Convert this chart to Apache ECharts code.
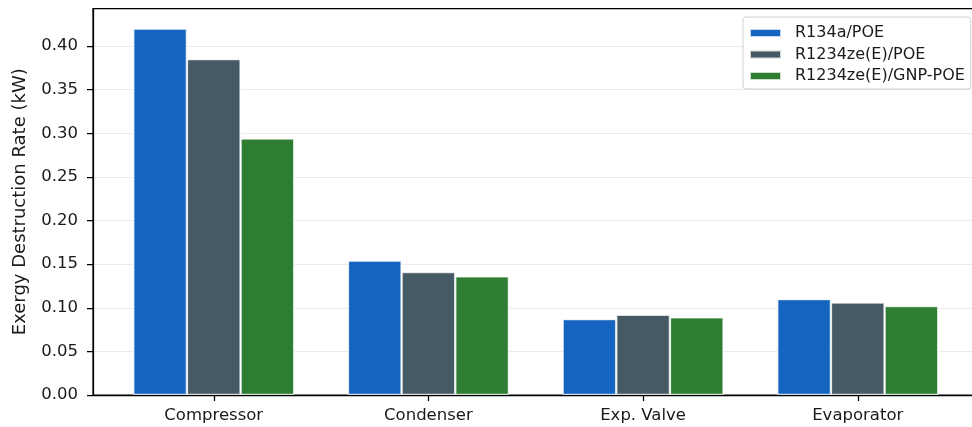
<!DOCTYPE html>
<html>
<head>
<meta charset="utf-8">
<script src="https://cdn.jsdelivr.net/npm/echarts@6/dist/echarts.min.js"></script>
<style>
  html, body { margin: 0; padding: 0; background: #fff; }
  #chart { width: 972px; height: 427px; }
</style>
</head>
<body>
<div id="chart"></div>
<script>
// Components of the refrigeration cycle
const categories = ['Compressor', 'Condenser', 'Exp. Valve', 'Evaporator'];

// Exergy destruction rate per component (kW)
const r134aValues = [0.420, 0.154, 0.087, 0.110];
const r1234zeValues = [0.385, 0.141, 0.092, 0.106];
const r1234zeGnpValues = [0.294, 0.136, 0.089, 0.102];

const seriesNames = ['R134a/POE', 'R1234ze(E)/POE', 'R1234ze(E)/GNP-POE'];
const seriesColors = ['#1565C0', '#455A64', '#2E7D32'];

const yTicks = ['0.00', '0.05', '0.10', '0.15', '0.20', '0.25', '0.30', '0.35', '0.40'];

const positions = categories.map((_, i) => i);
const font = 'DejaVu Sans';

function barSeries(name, values, color) {
  return {
    name: name,
    type: 'bar',
    data: values.map((v, i) => [positions[i], v]),
    barWidth: '25%',
    barGap: '0%',
    itemStyle: {
      color: color,
      borderColor: 'rgba(255,255,255,0.75)',
      borderWidth: 1.2
    },
    emphasis: { disabled: true }
  };
}

const chart = echarts.init(document.getElementById('chart'), null, { renderer: 'canvas' });

chart.setOption({
  animation: false,
  backgroundColor: '#fff',
  grid: {
    left: 93,
    width: 885.5,
    top: 8.5,
    bottom: 32,
    outerBoundsMode: 'none',
    containLabel: false,
    show: true,
    borderColor: '#000',
    borderWidth: 1.25,
    backgroundColor: 'transparent'
  },
  legend: {
    orient: 'vertical',
    left: 743,
    top: 17,
    padding: [8, 6, 5, 6],
    itemWidth: 31,
    itemHeight: 8,
    itemGap: 5.5,
    borderColor: '#d0d0d0',
    borderWidth: 1,
    borderRadius: 3,
    backgroundColor: '#fff',
    icon: 'rect',
    data: seriesNames,
    textStyle: {
      fontFamily: font,
      fontSize: 16,
      color: '#1a1a1a',
      padding: [0, 0, 0, 9]
    }
  },
  xAxis: {
    type: 'value',
    min: -0.5625,
    max: 3.5625,
    axisLine: { show: true, onZero: false, lineStyle: { color: '#000', width: 1.25 } },
    axisTick: { show: true, length: 6, customValues: positions, lineStyle: { color: '#000', width: 1.25 } },
    axisLabel: {
      show: true,
      customValues: positions,
      margin: 12,
      fontFamily: font,
      fontSize: 16.5,
      color: '#1a1a1a',
      formatter: (v) => categories[Math.round(v)]
    },
    splitLine: { show: false }
  },
  yAxis: {
    type: 'value',
    min: 0,
    max: 0.443,
    interval: 0.05,
    name: 'Exergy Destruction Rate (kW)',
    nameLocation: 'middle',
    nameGap: 64,
    nameTextStyle: { fontFamily: font, fontSize: 18, color: '#1a1a1a' },
    axisLine: { show: true, onZero: false, lineStyle: { color: '#000', width: 1.25 } },
    axisTick: { show: true, length: 6, lineStyle: { color: '#000', width: 1.25 } },
    axisLabel: {
      margin: 15,
      fontFamily: font,
      fontSize: 16.5,
      color: '#1a1a1a',
      showMaxLabel: false,
      formatter: (v) => {
        const idx = Math.round(v / 0.05);
        return Math.abs(v - idx * 0.05) < 1e-6 && yTicks[idx] !== undefined ? yTicks[idx] : '';
      }
    },
    splitLine: { show: true, showMaxLine: false, showMinLine: false, lineStyle: { color: '#ebebeb', width: 1 } }
  },
  series: [
    barSeries(seriesNames[0], r134aValues, seriesColors[0]),
    barSeries(seriesNames[1], r1234zeValues, seriesColors[1]),
    barSeries(seriesNames[2], r1234zeGnpValues, seriesColors[2])
  ]
});
</script>
</body>
</html>
